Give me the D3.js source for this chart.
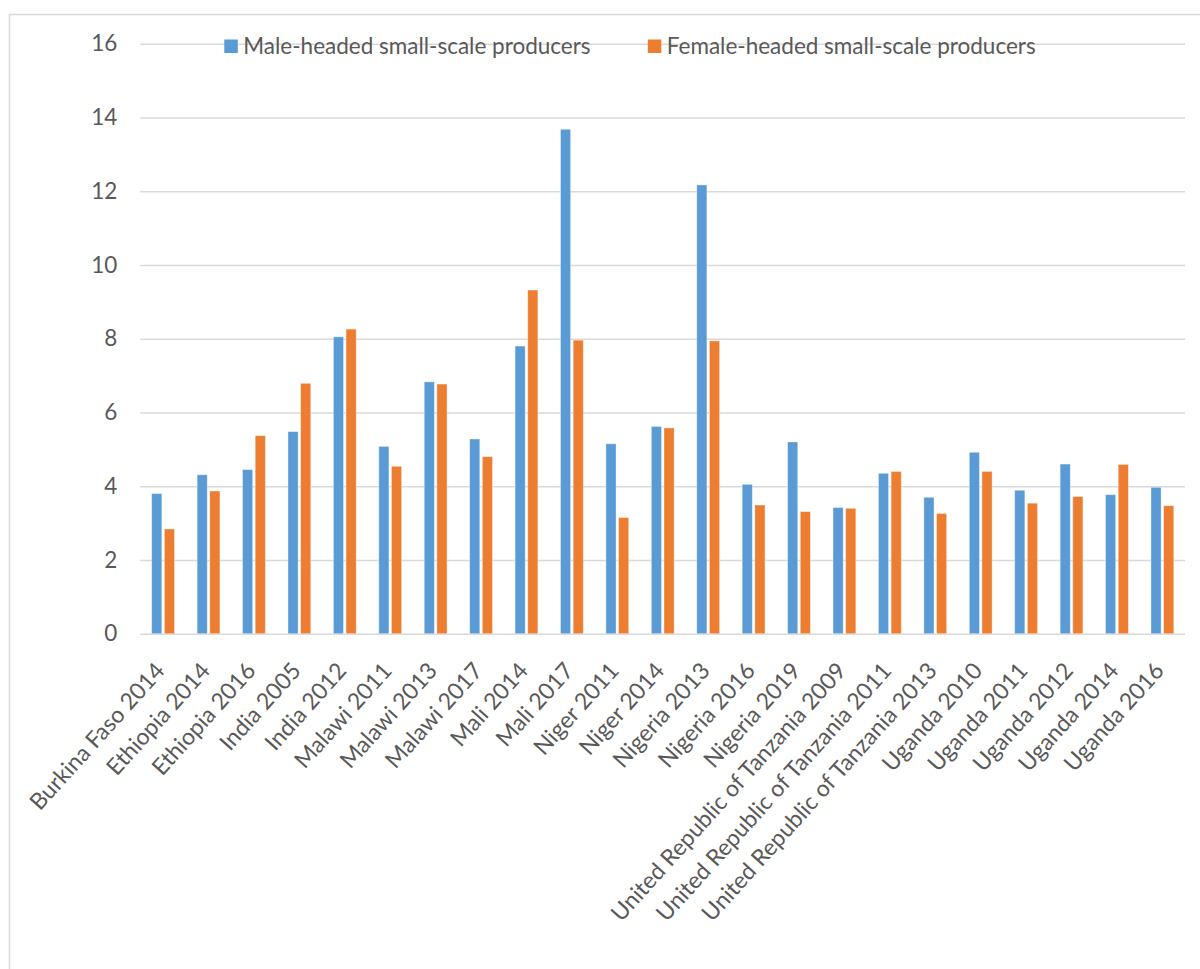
<!DOCTYPE html>
<html>
<head>
<meta charset="utf-8">
<script src="https://cdn.jsdelivr.net/npm/d3@7"></script>
<style>
  html, body { margin: 0; padding: 0; background: #fff; }
  svg { display: block; }
</style>
</head>
<body>
<svg id="chart" width="1200" height="969"></svg>
<script>
// Survey rounds (country + year)
const categories = [
  "Burkina Faso 2014", "Ethiopia 2014", "Ethiopia 2016", "India 2005", "India 2012",
  "Malawi 2011", "Malawi 2013", "Malawi 2017", "Mali 2014", "Mali 2017",
  "Niger 2011", "Niger 2014", "Nigeria 2013", "Nigeria 2016", "Nigeria 2019",
  "United Republic of Tanzania 2009", "United Republic of Tanzania 2011",
  "United Republic of Tanzania 2013", "Uganda 2010", "Uganda 2011", "Uganda 2012",
  "Uganda 2014", "Uganda 2016"
];

const maleValues = [3.80, 4.31, 4.45, 5.48, 8.05, 5.08, 6.83, 5.28, 7.80, 13.68,
  5.15, 5.62, 12.17, 4.05, 5.20, 3.42, 4.35, 3.70, 4.92, 3.89, 4.60, 3.77, 3.97];

const femaleValues = [2.84, 3.87, 5.37, 6.79, 8.26, 4.54, 6.77, 4.80, 9.32, 7.96,
  3.15, 5.58, 7.94, 3.49, 3.31, 3.40, 4.40, 3.26, 4.40, 3.54, 3.72, 4.59, 3.47];

const seriesNames = ["Male-headed small-scale producers", "Female-headed small-scale producers"];
const seriesColors = ["#5b9bd5", "#ed7d31"];
const yTicks = [0, 2, 4, 6, 8, 10, 12, 14, 16];

const FONT = "Lato, Calibri, Carlito, sans-serif";
const FONT_SIZE = 22.5;
const LABEL_SIZE = 23;
const TEXT = "#595959";
const GRID = "#d9d9d9";

const svg = d3.select("#chart");

// chart frame
svg.append("rect")
  .attr("x", 9.5).attr("y", 14.5)
  .attr("width", 1210).attr("height", 1000)
  .attr("fill", "#fff").attr("stroke", GRID).attr("stroke-width", 1.5);

const plot = { left: 140.3, right: 1185, top: 43.7, bottom: 633.7 };

const y = d3.scaleLinear().domain([0, 16]).range([plot.bottom, plot.top]);
const x0 = d3.scaleBand().domain(categories).range([plot.left, plot.right]).padding(0);
const x1 = d3.scaleBand().domain(seriesNames)
  .range([x0.bandwidth() * 0.251, x0.bandwidth() * 0.753]).paddingInner(0.2);

// value axis with gridlines
const yAxis = svg.append("g")
  .attr("transform", `translate(${plot.left},0)`)
  .call(d3.axisLeft(y).tickValues(yTicks).tickSize(-(plot.right - plot.left)).tickPadding(23));
yAxis.select(".domain").remove();
yAxis.selectAll(".tick line").attr("stroke", GRID).attr("stroke-width", 1.6);
yAxis.selectAll(".tick text")
  .attr("fill", TEXT).attr("font-family", FONT).attr("font-size", FONT_SIZE);

// bars
const rows = categories.map((c, i) => ({ cat: c, vals: [maleValues[i], femaleValues[i]] }));
const groups = svg.append("g").selectAll("g")
  .data(rows).join("g")
  .attr("transform", d => `translate(${x0(d.cat)},0)`);

groups.selectAll("rect")
  .data(d => d.vals.map((v, k) => ({ v, k })))
  .join("rect")
  .attr("x", d => x1(seriesNames[d.k]))
  .attr("width", x1.bandwidth())
  .attr("y", d => y(d.v))
  .attr("height", d => y(0) - y(d.v))
  .attr("fill", d => seriesColors[d.k])
  .attr("stroke", "#ffffff").attr("stroke-opacity", 0.45).attr("stroke-width", 0.8);

// category axis
const xAxis = svg.append("g")
  .attr("transform", `translate(0,${plot.bottom})`)
  .call(d3.axisBottom(x0).tickSize(0).tickPadding(0));
xAxis.select(".domain").remove();
xAxis.selectAll(".tick text")
  .attr("fill", TEXT).attr("font-family", FONT).attr("font-size", LABEL_SIZE)
  .attr("text-anchor", "end")
  .attr("dy", 0)
  .attr("y", 0)
  .attr("transform", "translate(3,38) rotate(-48)");

// legend
const legendX = [224.3, 647.8];
const legend = svg.append("g").selectAll("g")
  .data(seriesNames).join("g")
  .attr("transform", (d, i) => `translate(${legendX[i]},39.5)`);
legend.append("rect")
  .attr("width", 13.5).attr("height", 13.5)
  .attr("fill", (d, i) => seriesColors[i]);
legend.append("text")
  .attr("x", 19).attr("y", 14)
  .attr("fill", TEXT).attr("font-family", FONT).attr("font-size", FONT_SIZE)
  .text(d => d);
</script>
</body>
</html>
